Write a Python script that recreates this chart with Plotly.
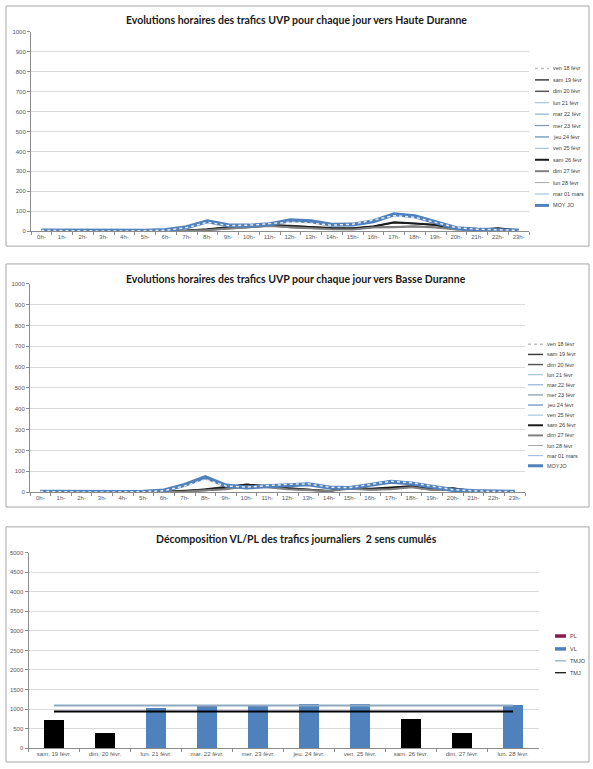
import plotly.graph_objects as go

W, H = 593, 769

hours = ["0h-", "1h-", "2h-", "3h-", "4h-", "5h-", "6h-", "7h-", "8h-", "9h-", "10h-", "11h-",
         "12h-", "13h-", "14h-", "15h-", "16h-", "17h-", "18h-", "19h-", "20h-", "21h-", "22h-", "23h-"]

names1 = ["ven 18 févr", "sam 19 févr", "dim 20 févr", "lun 21 févr", "mar 22 févr", "mer 23 févr",
          "jeu 24 févr", "ven 25 févr", "sam 26 févr", "dim 27 févr", "lun 28 févr", "mar 01 mars", "MOY JO"]
names2 = ["ven 18 févr", "sam 19 févr", "dim 20 févr", "lun 21 févr", "mar 22 févr", "mer 23 févr",
          "jeu 24 févr", "ven 25 févr", "sam 26 févr", "dim 27 févr", "lun 28 févr", "mar 01 mars", "MOYJO"]

# Haute Duranne hourly UVP
hd_ven18 = [4, 2, 1, 1, 1, 2, 5, 18, 45, 28, 30, 38, 45, 40, 30, 35, 55, 78, 70, 45, 18, 10, 8, 4]
hd_sam19 = [5, 3, 2, 1, 1, 1, 2, 3, 8, 18, 20, 30, 28, 22, 15, 14, 25, 42, 38, 30, 12, 6, 14, 4]
hd_dim20 = [4, 3, 2, 1, 1, 1, 1, 2, 5, 12, 18, 28, 18, 15, 12, 10, 20, 22, 25, 20, 10, 5, 8, 3]
hd_lun21 = [2, 1, 1, 0, 1, 2, 6, 22, 55, 32, 26, 33, 58, 52, 30, 32, 48, 88, 78, 42, 14, 7, 6, 2]
hd_mar22 = [3, 1, 0, 1, 1, 3, 7, 21, 52, 30, 27, 34, 56, 49, 33, 34, 51, 86, 76, 46, 15, 8, 7, 3]
hd_mer23 = [2, 2, 1, 1, 1, 2, 6, 19, 48, 29, 28, 36, 54, 50, 31, 33, 49, 84, 74, 44, 16, 8, 9, 3]
hd_jeu24 = [3, 1, 1, 0, 1, 2, 6, 20, 51, 31, 29, 35, 57, 51, 33, 32, 50, 87, 77, 47, 14, 9, 8, 2]
hd_ven25 = [4, 2, 1, 1, 1, 2, 5, 19, 47, 30, 29, 37, 52, 48, 34, 35, 53, 82, 73, 48, 17, 9, 8, 4]
hd_sam26 = [5, 3, 2, 1, 1, 1, 2, 4, 10, 20, 22, 32, 25, 20, 16, 15, 24, 45, 40, 32, 12, 7, 15, 4]
hd_dim27 = [4, 3, 2, 1, 0, 1, 1, 2, 6, 14, 20, 26, 20, 14, 10, 9, 18, 20, 24, 18, 9, 5, 7, 3]
hd_lun28 = [2, 1, 0, 1, 1, 2, 6, 21, 53, 31, 27, 34, 55, 50, 32, 33, 49, 86, 75, 44, 15, 7, 7, 3]
hd_mar01 = [3, 1, 1, 1, 1, 3, 6, 20, 50, 30, 28, 35, 54, 51, 32, 32, 50, 85, 76, 45, 14, 8, 8, 3]
hd_moyjo = [3, 2, 1, 1, 1, 2, 6, 20, 50, 30, 28, 35, 55, 50, 32, 33, 50, 85, 75, 45, 15, 8, 8, 3]

# Basse Duranne hourly UVP
bd_ven18 = [3, 1, 1, 1, 1, 2, 7, 30, 60, 30, 24, 30, 38, 40, 24, 22, 38, 52, 45, 28, 12, 6, 3, 2]
bd_sam19 = [3, 2, 1, 1, 1, 1, 2, 5, 15, 25, 38, 28, 20, 15, 5, 25, 15, 20, 30, 15, 20, 5, 3, 2]
bd_dim20 = [3, 2, 2, 1, 1, 1, 1, 3, 8, 15, 30, 25, 15, 10, 5, 18, 12, 15, 25, 10, 12, 4, 3, 2]
bd_lun21 = [2, 1, 1, 0, 1, 2, 9, 36, 75, 33, 21, 27, 34, 37, 21, 19, 34, 49, 41, 24, 9, 5, 3, 2]
bd_mar22 = [2, 1, 0, 1, 1, 3, 8, 37, 74, 31, 22, 29, 36, 39, 23, 21, 36, 51, 43, 26, 10, 5, 3, 1]
bd_mer23 = [1, 1, 1, 1, 1, 2, 8, 34, 70, 32, 23, 28, 35, 38, 22, 20, 35, 50, 42, 25, 11, 5, 4, 2]
bd_jeu24 = [2, 1, 1, 0, 1, 2, 9, 35, 73, 33, 22, 28, 36, 39, 22, 20, 35, 52, 43, 25, 10, 6, 3, 2]
bd_ven25 = [3, 1, 1, 1, 1, 2, 7, 33, 68, 31, 23, 29, 34, 37, 23, 21, 37, 48, 41, 26, 11, 6, 4, 2]
bd_sam26 = [3, 2, 1, 1, 1, 1, 2, 6, 12, 22, 35, 30, 18, 12, 6, 22, 16, 22, 28, 14, 18, 6, 4, 2]
bd_dim27 = [3, 2, 1, 1, 1, 1, 1, 3, 9, 14, 28, 24, 14, 9, 5, 16, 12, 14, 24, 10, 11, 4, 3, 2]
bd_lun28 = [2, 1, 1, 1, 1, 2, 8, 36, 72, 32, 22, 28, 35, 38, 22, 20, 35, 50, 42, 25, 10, 5, 3, 2]
bd_mar01 = [2, 1, 1, 1, 1, 2, 8, 35, 71, 32, 22, 28, 35, 38, 22, 20, 34, 50, 42, 24, 10, 5, 3, 2]
bd_moyjo = [2, 1, 1, 1, 1, 2, 8, 35, 72, 32, 22, 28, 35, 38, 22, 20, 35, 50, 42, 25, 10, 5, 3, 2]

# Daily traffic, both directions
days = ["sam. 19 févr.", "dim. 20 févr.", "lun. 21 févr.", "mar. 22 févr.", "mer. 23 févr.",
        "jeu. 24 févr.", "ven. 25 févr.", "sam. 26 févr.", "dim. 27 févr.", "lun. 28 févr."]
vl = [715, 383, 1014, 1099, 1073, 1133, 1133, 733, 392, 1107]
pl = [0, 0, 0, 0, 0, 0, 0, 0, 0, 0]
tmjo = 1090
tmj = 935

hd_series = [hd_ven18, hd_sam19, hd_dim20, hd_lun21, hd_mar22, hd_mer23, hd_jeu24, hd_ven25,
             hd_sam26, hd_dim27, hd_lun28, hd_mar01, hd_moyjo]
bd_series = [bd_ven18, bd_sam19, bd_dim20, bd_lun21, bd_mar22, bd_mer23, bd_jeu24, bd_ven25,
             bd_sam26, bd_dim27, bd_lun28, bd_mar01, bd_moyjo]

# styles: (color, width, dash)
styles = [
    ("#E6E6E6", 1.5, "dot"),
    ("#3F3F3F", 1.5, "solid"),
    ("#595959", 1.5, "solid"),
    ("#A9C4D4", 1.2, "solid"),
    ("#8FB4D6", 1.2, "solid"),
    ("#8497A8", 1.2, "solid"),
    ("#5E8DB8", 1.2, "solid"),
    ("#A7C7E7", 1.2, "solid"),
    ("#1A1A1A", 2.0, "solid"),
    ("#808080", 2.0, "solid"),
    ("#A6A6A6", 1.0, "solid"),
    ("#95B8E0", 1.0, "solid"),
    ("#4F81BD", 4.0, "solid"),
]
order = [1, 2, 3, 4, 5, 6, 7, 8, 9, 10, 11, 12, 0]

fig = go.Figure()

TICKFONT = dict(family="Liberation Sans", size=6, color="#595959")
GRID = "#D9D9D9"
AXL = "#8C8C8C"


def px_x(p):
    return p / W


def px_y(p):
    return 1 - p / H


for i in order:
    c, w, d = styles[i]
    fig.add_trace(go.Scatter(x=hours, y=hd_series[i], mode="lines", name=names1[i],
                             line=dict(color=c, width=w, dash=d),
                             showlegend=False, xaxis="x", yaxis="y"))
for i in order:
    c, w, d = styles[i]
    fig.add_trace(go.Scatter(x=hours, y=bd_series[i], mode="lines", name=names2[i],
                             line=dict(color=c, width=w, dash=d),
                             showlegend=False, xaxis="x2", yaxis="y2"))

bar_colors = ["#000000" if d.startswith(("sam", "dim")) else "#4F81BD" for d in days]
fig.add_trace(go.Bar(x=days, y=vl, name="VL", marker=dict(color=bar_colors, line=dict(width=0)),
                     showlegend=False, xaxis="x3", yaxis="y3"))
fig.add_trace(go.Bar(x=days, y=pl, name="PL", marker=dict(color="#8B1A4A", line=dict(width=0)),
                     showlegend=False, xaxis="x3", yaxis="y3"))
fig.add_trace(go.Scatter(x=days, y=[tmjo] * len(days), mode="lines", name="TMJO",
                         line=dict(color="#8EA9C1", width=2), showlegend=False, xaxis="x3", yaxis="y3"))
fig.add_trace(go.Scatter(x=days, y=[tmj] * len(days), mode="lines", name="TMJ",
                         line=dict(color="#000000", width=2), showlegend=False, xaxis="x3", yaxis="y3"))


def xax(dom, n):
    return dict(domain=dom, type="category", range=[-0.5, n - 0.5], showgrid=False,
                showline=True, linecolor=AXL, linewidth=1, ticks="outside", tickson="boundaries",
                ticklen=3, tickcolor=AXL, tickfont=TICKFONT, tickangle=0, fixedrange=True)


def yax(dom, rng, dt, anchor):
    return dict(domain=dom, range=rng, dtick=dt, tick0=0, showgrid=True, gridcolor=GRID, gridwidth=1,
                showline=True, linecolor=AXL, linewidth=1, ticks="outside", ticklen=3, tickcolor=AXL,
                tickfont=TICKFONT, zeroline=False, anchor=anchor, fixedrange=True)


layout = dict(
    width=W, height=H, margin=dict(l=0, r=0, t=0, b=0),
    paper_bgcolor="white", plot_bgcolor="white",
    barmode="stack", bargap=0.59,
    xaxis=dict(**xax([px_x(31), px_x(529)], 24), anchor="y"),
    yaxis=yax([px_y(230), px_y(29)], [0, 1000], 100, "x"),
    xaxis2=dict(**xax([px_x(30), px_x(525)], 24), anchor="y2"),
    yaxis2=yax([px_y(493), px_y(283)], [0, 1000], 100, "x2"),
    xaxis3=dict(**xax([px_x(28.5), px_x(538.5)], 10), anchor="y3"),
    yaxis3=yax([px_y(751), px_y(554)], [0, 5000], 500, "x3"),
)
fig.update_layout(**layout)

shapes = []
annotations = []
BORDER = "#A6A6A6"
for (top, bot) in [(3, 245), (263, 508), (528, 765)]:
    shapes.append(dict(type="rect", xref="paper", yref="paper", x0=px_x(6), x1=px_x(589),
                       y0=px_y(bot), y1=px_y(top), line=dict(color=BORDER, width=1)))

TITLEFONT = dict(family="Lato", size=10.5, color="#1A1A1A")
titles = [
    ("<b>Evolutions horaires des trafics UVP pour chaque jour vers Haute Duranne</b>", 17),
    ("<b>Evolutions horaires des trafics UVP pour chaque jour vers Basse Duranne</b>", 278),
    ("<b>Décomposition VL/PL des trafics journaliers  2 sens cumulés</b>", 540),
]
for t, yy in titles:
    annotations.append(dict(text=t, xref="paper", yref="paper", x=px_x(296), y=px_y(yy),
                            xanchor="center", yanchor="middle", showarrow=False, font=TITLEFONT))

LEGFONT = dict(family="Liberation Sans", size=5.5, color="#404040")


def legend_entry(label, y, x0, x1, color, width, dash="solid"):
    shapes.append(dict(type="line", xref="paper", yref="paper", x0=px_x(x0), x1=px_x(x1),
                       y0=px_y(y), y1=px_y(y), line=dict(color=color, width=width, dash=dash)))
    annotations.append(dict(text=label, xref="paper", yref="paper", x=px_x(x1 + 2), y=px_y(y),
                            xanchor="left", yanchor="middle", showarrow=False, font=LEGFONT))


for k, nm in enumerate(names1):
    c, w, d = styles[k]
    if k == 0:
        c = "#BFBFBF"
    legend_entry(nm, 66 + k * 11.5, 535, 549, c, min(w, 3), d)
for k, nm in enumerate(names2):
    c, w, d = styles[k]
    if k == 0:
        c = "#BFBFBF"
    legend_entry(nm, 344 + k * 10.2, 528, 543, c, min(w, 3), d)

legend_entry("PL", 638, 555, 566, "#8B1A4A", 3.5)
legend_entry("VL", 651, 555, 566, "#4F81BD", 3.5)
legend_entry("TMJO", 663, 555, 566, "#8EA9C1", 1.2)
legend_entry("TMJ", 675, 555, 566, "#000000", 1.2)

fig.update_layout(shapes=shapes, annotations=annotations)

fig.write_html("out.html", config={"displayModeBar": False},
               post_script="document.body.style.margin='0';")
